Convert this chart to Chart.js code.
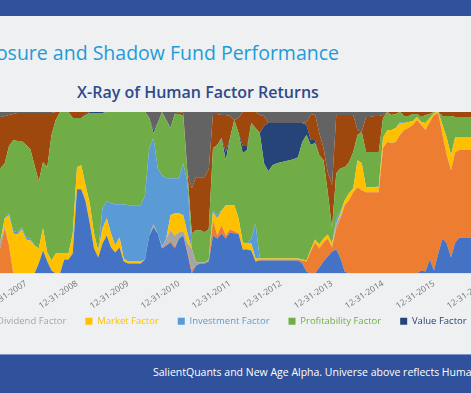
<!DOCTYPE html>
<html>
<head>
<meta charset="utf-8">
<script src="https://cdn.jsdelivr.net/npm/chart.js@4.4.0/dist/chart.umd.min.js"></script>
<style>
  html, body { margin: 0; padding: 0; }
  body { width: 471px; height: 393px; overflow: hidden; position: relative; background: #eef0f2; font-family: "Open Sans", sans-serif; }
  #topbar { position: absolute; left: 0; top: 0; width: 471px; height: 16px; background: #30519b; }
  #slideTitle { position: absolute; right: 132px; top: 39px; white-space: nowrap; font-size: 19.5px; color: #1e9bd7; }
  #chartTitle { position: absolute; left: 0; top: 81px; width: 396px; text-align: center; font-size: 16px; font-weight: 600; color: #2e4a8a; }
  #chartBox { position: absolute; left: -244px; top: 112px; }
  #footer { position: absolute; left: 0; top: 354px; width: 471px; height: 39px; background: #30519b; border-top: 1px solid #8193c4; }
  #footer span { position: absolute; left: 153px; top: 10px; white-space: nowrap; font-size: 10.5px; color: #fff; }
</style>
</head>
<body>
<div id="topbar"></div>
<div id="slideTitle">Human Factor Exposure and Shadow Fund Performance</div>
<div id="chartTitle">X-Ray of Human Factor Returns</div>
<div id="chartBox"><canvas id="chart" width="960" height="240"></canvas></div>
<div id="footer"><span>SalientQuants and New Age Alpha. Universe above reflects Human Factor exposures of the shadow fund.</span></div>

<script>
// monthly shares (each column is 100%)
// month index: 0 = Jan 2007, data starts May 2007
var firstMonth = 4;

var tickLabels = ['12-31-2006', '12-31-2007', '12-31-2008', '12-31-2009', '12-31-2010', '12-31-2011',
                  '12-31-2012', '12-31-2013', '12-31-2014', '12-31-2015', '12-31-2016', '12-31-2017'];

var seriesNames = ['Size Factor', 'Momentum Factor', 'Dividend Factor', 'Market Factor', 'Investment Factor',
                   'Profitability Factor', 'Value Factor', 'Quality Factor', 'Low Volatility Factor'];

var sizeF = [0,0,0,0,0,0,0,0,0,0, 10,23,12,3,0,0,14,14,20,84, 84,72,50,25,16,30,38,26,21,26,
  12,10,10,10,10,14,38,46,40,25, 28,31,25,35,38,20,0,8,10,10, 12,38,35,40,35,41,40,40,24,24,
  23,12,13,13,13,13,13,13,13,13, 13,13,10,2,0,0,6,12,17,22, 24,15,2,0,0,0,0,0,0,0,
  0,0,0,0,0,0,0,0,0,0, 3,2,14,3,20,35,30,16,31,36, 36,36,36,36,36,36,36];
var momentumF = [26,26,45,28,0,0,0,0,0,0, 0,0,0,0,0,0,0,0,0,0, 0,0,0,0,0,0,0,0,0,0,
  0,0,0,0,0,0,0,0,0,0, 0,2,2,0,0,2,4,0,0,0, 1,15,3,8,3,3,2,0,0,0,
  0,0,1,1,1,1,1,1,1,1, 1,1,3,10,22,31,19,19,18,4, 21,40,66,73,81,86,83,81,81,81,
  81,125,131,130,131,138,143,145,148,153, 145,141,137,155,140,103,88,87,90,87, 87,87,87,87,87,87,87];
var dividendF = [7,7,2,0,0,0,0,0,0,0, 0,0,0,0,0,0,0,0,0,0, 0,2,0,0,0,0,0,0,0,0,
  0,0,0,0,0,0,0,3,0,2, 7,10,11,6,4,8,21,3,1,1, 1,0,0,0,0,0,0,0,0,0,
  0,0,0,0,0,0,0,0,0,0, 0,0,0,0,0,0,0,0,0,0, 5,2,0,0,0,0,0,0,0,0,
  0,0,0,0,0,0,0,0,0,0, 0,0,0,0,0,0,0,0,0,0, 0,0,0,0,0,0,0];
var marketF = [0,0,8,30,40,39,44,34,33,28, 15,22,9,10,20,20,6,6,20,22, 24,14,20,15,7,15,17,14,7,10,
  3,2,2,2,2,0,0,0,0,0, 0,15,22,19,16,10,0,0,0,0, 0,8,17,14,30,24,26,15,7,6,
  7,3,1,1,1,1,1,1,1,1, 1,1,1,1,2,3,4,4,4,4, 0,3,5,7,4,27,27,5,5,5,
  5,10,12,13,14,12,7,6,4,3, 3,7,4,2,1,10,17,15,15,13, 13,13,13,13,13,13,13];
var investmentF = [0,0,0,2,2,2,2,2,2,0, 0,0,0,0,0,0,0,0,0,0, 0,0,0,0,0,20,17,30,41,33,
  54,56,56,56,56,64,87,86,65,71, 60,37,35,35,52,50,0,0,0,0, 0,2,3,1,0,0,0,0,0,0,
  5,35,0,0,0,0,0,0,0,0, 0,0,0,0,0,0,0,0,0,0, 4,2,0,0,0,0,0,0,0,0,
  1,0,0,0,0,1,0,0,0,0, 0,0,0,0,0,0,0,0,0,0, 0,0,0,0,0,0,0];
var profitabilityF = [72,72,55,67,91,91,86,92,89,80, 67,66,85,125,133,141,141,141,115,49, 47,70,90,120,137,95,89,91,92,92,
  92,93,93,93,93,83,30,5,45,63, 58,50,64,64,47,10,15,32,32,30, 30,62,70,72,45,67,85,85,89,93,
  115,95,125,95,87,93,95,96,97,98, 99,101,117,125,104,96,89,78,42,15, 46,43,33,31,36,25,31,35,35,35,
  34,20,18,15,14,10,7,6,7,3, 5,8,4,1,0,9,22,39,20,20, 20,20,20,20,20,20,20];
var valueF = [0,0,0,0,0,0,0,0,0,0, 0,0,0,0,0,0,0,0,0,0, 0,1,1,1,1,1,0,0,0,0,
  0,0,0,0,0,0,0,3,0,0, 0,0,0,0,0,0,0,0,0,0, 0,0,0,0,8,0,0,0,7,4,
  0,0,0,37,48,42,40,39,38,37, 36,34,19,10,5,3,0,0,0,0, 0,0,0,0,0,0,0,0,0,0,
  0,0,0,0,0,0,0,0,0,0, 0,0,0,0,0,0,0,0,0,0, 0,0,0,0,0,0,0];
var qualityF = [51,51,47,31,26,28,28,32,36,52, 68,49,54,22,8,0,0,0,6,6, 6,2,0,0,0,0,0,0,0,0,
  0,0,0,0,0,0,0,0,0,0, 0,0,0,2,3,0,45,53,53,55, 60,34,31,23,37,22,0,15,34,34,
  11,16,18,10,0,0,0,0,0,0, 0,0,0,3,25,26,22,12,20,43, 58,53,52,47,37,5,0,35,35,36,
  36,3,0,3,2,0,4,4,2,2, 5,3,2,0,0,4,4,4,5,5, 5,5,5,5,5,5,5];
var lowVolF = [5,5,4,3,2,1,1,1,1,1, 1,1,1,1,0,0,0,0,0,0, 0,0,0,0,0,0,0,0,0,0,
  0,0,0,0,0,0,6,18,11,0, 8,16,2,0,1,61,76,65,65,65, 57,2,2,3,3,4,8,6,0,0,
  0,0,3,4,11,11,11,11,11,11, 11,11,11,10,3,2,21,36,60,73, 3,3,3,3,3,18,20,5,5,4,
  4,3,0,0,0,0,0,0,0,0, 0,0,0,0,0,0,0,0,0,0, 0,0,0,0,0,0,0];

var colors = ['#4472c4', '#ed7d31', '#a5a5a5', '#ffc000', '#5b9bd5', '#70ad47', '#264478', '#9e480e', '#636363'];
var allSeries = [sizeF, momentumF, dividendF, marketF, investmentF, profitabilityF, valueF, qualityF, lowVolF];

// column totals -> 100% stacked
var totals = sizeF.map(function (v, k) {
  return allSeries.reduce(function (s, arr) { return s + arr[k]; }, 0);
});

function monthOf(label) {
  return 11 + 12 * (parseInt(label.slice(6), 10) - 2007);
}

var datasets = allSeries.map(function (arr, n) {
  return {
    label: seriesNames[n],
    data: arr.map(function (v, k) { return { x: firstMonth + k, y: v / totals[k] * 100 }; }),
    backgroundColor: colors[n],
    borderColor: colors[n],
    borderWidth: 0,
    pointRadius: 0,
    tension: 0,
    fill: n === 0 ? 'origin' : '-1'
  };
});

// legend sits closer to the rotated dates than the layout allows
var legendNudge = {
  id: 'legendNudge',
  afterLayout: function (c) {
    c.legend.top -= 16;
    c.legend.bottom -= 16;
  }
};

var ctx = document.getElementById('chart');
var chart = new Chart(ctx, {
  type: 'line',
  data: { datasets: datasets },
  plugins: [legendNudge],
  options: {
    responsive: false,
    animation: false,
    layout: { padding: 0, autoPadding: false },
    scales: {
      x: {
        type: 'linear',
        min: -52.53,
        max: 173.35,
        grid: { display: false, drawTicks: false },
        border: { display: false },
        afterBuildTicks: function (scale) {
          scale.ticks = tickLabels.map(function (t) { return { value: monthOf(t) }; });
        },
        afterFit: function (scale) { scale.height = 40; },
        ticks: {
          autoSkip: false,
          minRotation: 33,
          maxRotation: 33,
          padding: 5,
          color: '#767676',
          font: { family: 'Open Sans', size: 8.5 },
          callback: function (v) {
            return tickLabels.find(function (t) { return monthOf(t) === v; }) || '';
          }
        }
      },
      y: { stacked: true, min: 0, max: 100, display: false }
    },
    plugins: {
      tooltip: { enabled: false },
      legend: {
        position: 'bottom',
        labels: {
          boxWidth: 7,
          boxHeight: 7,
          padding: 19,
          font: { family: 'Open Sans', size: 9.5 },
          generateLabels: function (c) {
            var items = Chart.defaults.plugins.legend.labels.generateLabels(c);
            items.forEach(function (it) { it.fontColor = it.fillStyle; it.lineWidth = 0; });
            return items;
          }
        }
      }
    }
  }
});
</script>
</body>
</html>
